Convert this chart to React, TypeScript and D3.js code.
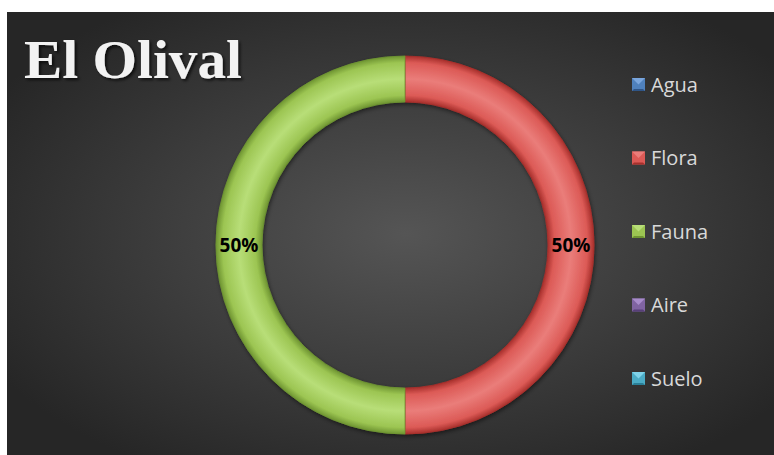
import React from "react";
import * as d3 from "d3";

const categories = ["Agua", "Flora", "Fauna", "Aire", "Suelo"];
const values = [0, 50, 50, 0, 0];
const colors = ["#4f81bd", "#dc5a56", "#9cc552", "#8064a2", "#4bacc6"];
const lightColors = ["#7aa6dd", "#ea7d7a", "#b8de78", "#a88ccb", "#7fd3ea"];
const darkColors = ["#2f5587", "#a8302c", "#6f9532", "#573f78", "#2a7f97"];

const W = 774, H = 455;
const cx = 405, cy = 245, rOuter = 189, rInner = 143;

export default function App() {
  const pie = d3.pie<number>().value((d) => d).sort(null).startAngle(0).endAngle(2 * Math.PI);
  const arcs = pie(values);
  const arcGen = d3.arc<d3.PieArcDatum<number>>().innerRadius(rInner).outerRadius(rOuter);
  const labelArc = d3.arc<d3.PieArcDatum<number>>().innerRadius((rInner + rOuter) / 2).outerRadius((rInner + rOuter) / 2);
  const total = d3.sum(values);
  const legendY = d3.scalePoint<string>().domain(categories).range([84, 378]);
  const f = rInner / rOuter;

  return (
    <svg width={W} height={H} style={{ position: "absolute", left: 0, top: 0 }}>
      <defs>
        <radialGradient id="bg" cx="0.52" cy="0.5" r="0.62">
          <stop offset="0" stopColor="#555555" />
          <stop offset="1" stopColor="#262626" />
        </radialGradient>
        {colors.map((c, i) => (
          <radialGradient key={i} id={`g${i}`} gradientUnits="userSpaceOnUse" cx={0} cy={0} r={rOuter}>
            <stop offset={f} stopColor={darkColors[i]} />
            <stop offset={f + 0.035} stopColor={colors[i]} />
            <stop offset={f + (1 - f) * 0.5} stopColor={lightColors[i]} />
            <stop offset={0.965} stopColor={colors[i]} />
            <stop offset={1} stopColor={darkColors[i]} />
          </radialGradient>
        ))}
        <filter id="ts" x="-10%" y="-10%" width="130%" height="140%">
          <feDropShadow dx="2" dy="2" stdDeviation="1.5" floodColor="#000" floodOpacity="0.7" />
        </filter>
        <filter id="ds" x="-10%" y="-10%" width="120%" height="120%">
          <feDropShadow dx="1" dy="2" stdDeviation="2" floodColor="#000" floodOpacity="0.5" />
        </filter>
      </defs>
      <rect x={7} y={12} width={W - 7} height={H - 12} fill="url(#bg)" />
      <text x={24} y={78} fontFamily="'Liberation Serif', serif" fontWeight="bold" fontSize={54} fill="#f2f2f2" filter="url(#ts)" textLength={218} lengthAdjust="spacingAndGlyphs">
        El Olival
      </text>
      <g transform={`translate(${cx},${cy})`}>
        <g filter="url(#ds)">
          {arcs.map((a, i) =>
            a.value > 0 ? (
              <path key={i} d={arcGen(a) || ""} fill={`url(#g${i})`} stroke={darkColors[i]} strokeWidth={0.8} />
            ) : null
          )}
        </g>
        {arcs.map((a, i) => {
          if (a.value <= 0) return null;
          const [lx, ly] = labelArc.centroid(a);
          return (
            <text key={i} x={lx} y={ly} textAnchor="middle" dominantBaseline="central" fontFamily="'Open Sans', 'Noto Sans', sans-serif" fontWeight="bold" fontSize={19} fill="#000">
              {Math.round((a.value / total) * 100)}%
            </text>
          );
        })}
      </g>
      <g>
        {categories.map((c, i) => {
          const y = legendY(c) as number;
          return (
            <g key={c}>
              <rect x={632} y={y - 6} width={13} height={13} fill={colors[i]} />
              <path d={`M${632},${y - 6}L${645},${y - 6}L${638.5},${y + 0.5}Z`} fill={lightColors[i]} />
              <path d={`M${632},${y + 7}L${645},${y + 7}L${643},${y + 5}L${634},${y + 5}Z`} fill={darkColors[i]} />
              <text x={651} y={y} dominantBaseline="central" fontFamily="'Open Sans', 'Noto Sans', sans-serif" fontSize={20} fill="#d9d9d9">
                {c}
              </text>
            </g>
          );
        })}
      </g>
    </svg>
  );
}
